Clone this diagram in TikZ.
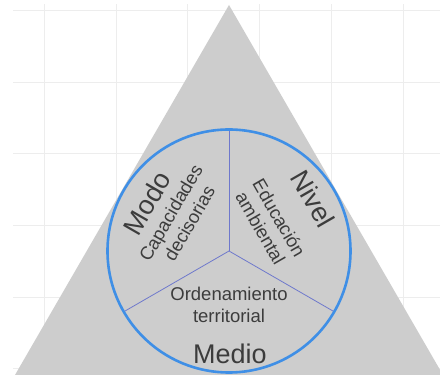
\documentclass[tikz,border=0pt]{standalone}
\usepackage{fontspec}
\setmainfont{Liberation Sans}
\definecolor{gridc}{HTML}{EDEDED}
\definecolor{trig}{HTML}{CDCDCD}
\definecolor{ringc}{HTML}{3F8FE6}
\definecolor{divc}{HTML}{6E78CC}
\definecolor{txt}{HTML}{3C3C3C}
\tikzset{
  big/.style={text=txt,font=\fontsize{27}{30}\selectfont,inner sep=0pt},
  small/.style={text=txt,font=\fontsize{18.5}{21.5}\selectfont,align=center,inner sep=0pt},
  divider/.style={draw=divc,line width=0.8pt},
}
\begin{document}
\begin{tikzpicture}[x=1pt,y=1pt]
\useasboundingbox (0,0) rectangle (440,375);
\fill[white] (0,0) rectangle (440,375);
% grid
\foreach \gx in {44,116,187,259,331,403}
  \draw[gridc,line width=0.8pt] (\gx,0) -- (\gx,371);
\foreach \gy in {7,78,150,222,293,365}
  \draw[gridc,line width=0.8pt] (13,\gy) -- (440,\gy);
% triangle
\coordinate (apex) at (229,370);
\coordinate (bl) at (15,0);
\coordinate (br) at (443,0);
\fill[trig] (apex) -- (bl) -- (br) -- cycle;
% circle and dividers
\coordinate (c) at (229,124);
\coordinate (dtop) at (229,245);
\coordinate (dleft) at (124.2,63.5);
\coordinate (dright) at (333.8,63.5);
\draw[divider] (c) -- (dtop);
\draw[divider] (c) -- (dleft);
\draw[divider] (c) -- (dright);
\node[draw=ringc,line width=2.6pt,circle,minimum size=243pt,inner sep=0pt] (ring) at (c) {};
% texts
\node[big,rotate=60] (modo) at (147,172) {Modo};
\node[small,rotate=60] (cap) at (180,157) {Capacidades\\decisorias};
\node[big,rotate=-60] (nivel) at (313,176) {Nivel};
\node[small,rotate=-60] (edu) at (270,152) {Educación\\ambiental};
\node[small] (ord) at (229,70) {Ordenamiento\\territorial};
\node[big] (medio) at (230,21) {Medio};
\end{tikzpicture}
\end{document}
